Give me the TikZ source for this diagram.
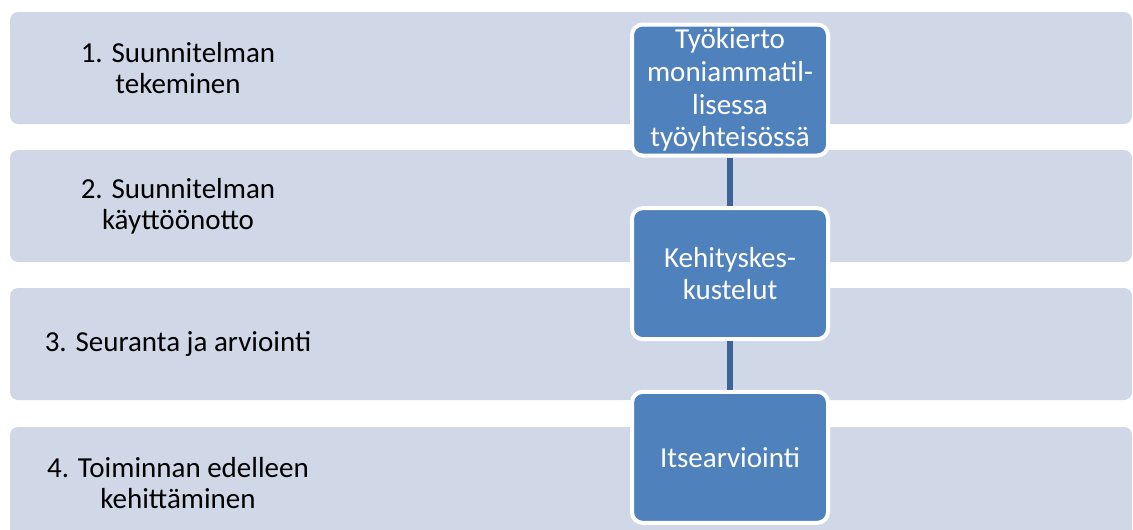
\documentclass[tikz,border=0pt]{standalone}
\usepackage{fontspec}
\setmainfont{Carlito}
\usetikzlibrary{positioning}
\definecolor{bandfill}{RGB}{208,216,232}
\definecolor{boxfill}{RGB}{79,129,189}
\definecolor{linkcol}{RGB}{62,99,150}

\begin{document}
\begin{tikzpicture}[
  x=0.75pt, y=-0.75pt,
  band/.style={fill=bandfill, rounded corners=6pt, minimum width=841.5pt, minimum height=84pt, inner sep=0pt},
  phase/.style={align=center, inner sep=0pt, font=\fontsize{21.75}{23.5}\selectfont},
  task/.style={draw=white, line width=3pt, fill=boxfill, rounded corners=8pt, text=white, align=center,
    minimum width=147pt, minimum height=98.25pt, inner sep=0pt, font=\fontsize{21.75}{24.5}\selectfont},
  link/.style={draw=linkcol, line width=4pt}
]
\useasboundingbox (0,0) rectangle (1133,529);
% vaiheet
\node[band] (b1) at (571,68) {};
\node[band] (b2) at (571,206) {};
\node[band] (b3) at (571,344) {};
\node[band] (b4) at (571,483) {};
\node[phase] (p1) at (178,68) {1. Suunnitelman\\tekeminen};
\node[phase] (p2) at (178,206) {2. Suunnitelman\\käyttöönotto};
\node[phase] (p3) at (178,344) {3. Seuranta ja arviointi};
\node[phase] (p4) at (178,483) {4. Toiminnan edelleen\\kehittäminen};
% menetelmät
\node[task] (t1) at (730,90) {Työkierto\\moniammatil-\\lisessa\\työyhteisössä};
\node[task, below=36.5pt of t1] (t2) {Kehityskes-\\kustelut};
\node[task, below=36.5pt of t2] (t3) {Itsearviointi};
\draw[link] (t1) -- (t2);
\draw[link] (t2) -- (t3);
\end{tikzpicture}
\end{document}
